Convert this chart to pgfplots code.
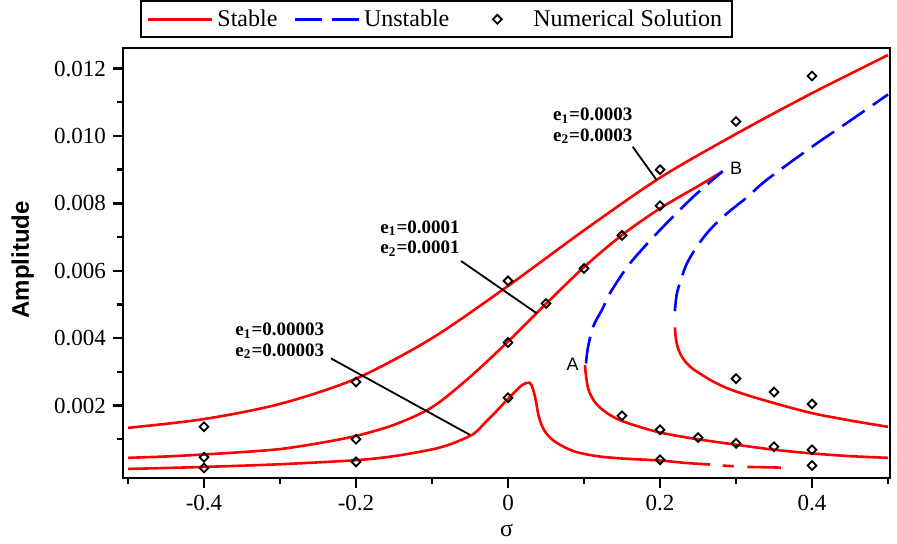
\documentclass[border=0pt]{standalone}
\usepackage{fontspec}
\setmainfont{Liberation Serif}
\setsansfont{Liberation Sans}
\usepackage{pgfplots}
\pgfplotsset{compat=1.18}

\pgfplotsset{
  stab/.style={red, line width=1.3pt, smooth, forget plot},
  unst/.style={blue, line width=1.3pt, smooth, dash pattern=on 13.5pt off 5pt, forget plot},
  numsol/.style={only marks, mark=square, mark size=1.55pt, mark options={black, rotate=45, line width=0.9pt}, forget plot},
}

\begin{document}
\begin{tikzpicture}
\begin{axis}[
  scale only axis,
  width=383.5pt, height=215pt,
  xmin=-0.5066, xmax=0.5026,
  ymin=-0.000148, ymax=0.01261,
  axis line style={line width=1.2pt},
  tick align=outside,
  xtick pos=bottom, ytick pos=left,
  xtick={-0.4,-0.2,0,0.2,0.4},
  minor xtick={-0.5,-0.3,-0.1,0.1,0.3,0.5},
  ytick={0.002,0.004,0.006,0.008,0.010,0.012},
  minor ytick={0.001,0.003,0.005,0.007,0.009,0.011},
  major tick length=5pt, minor tick length=3pt,
  tick style={black, line width=1.2pt},
  scaled y ticks=false, scaled x ticks=false,
  yticklabel style={/pgf/number format/.cd, fixed, fixed zerofill, precision=3, assume math mode=true},
  xticklabel style={/pgf/number format/.cd, fixed, precision=1, assume math mode=true},
  tick label style={font=\fontsize{11.5}{13}\selectfont},
  xlabel={σ},
  ylabel={Amplitude},
  xlabel style={font=\fontsize{12}{14}\selectfont, at={(axis description cs:0.5,-0.121)}, anchor=center},
  ylabel style={font=\sffamily\bfseries\fontsize{12}{14}\selectfont, at={(axis description cs:-0.1307,0.507)}, anchor=center},
  legend image code/.code={\draw[mark repeat=2,mark phase=2,#1] plot coordinates {(0pt,0pt) (16pt,0pt) (32pt,0pt)};},
  legend columns=3,
  legend style={at={(0.022,1.023)}, anchor=south west, draw=black, line width=1pt,
    font=\fontsize{12}{14}\selectfont, inner xsep=3pt, inner ysep=2pt,
    /tikz/every even column/.append style={column sep=6pt}},
]
\addlegendimage{red, line width=1.3pt}
\addlegendentry{Stable}
\addlegendimage{blue, line width=1.3pt, dash pattern=on 13.5pt off 5pt}
\addlegendentry{Unstable}
\addlegendimage{white, line width=0pt, mark=square, mark size=1.55pt, mark options={draw=black, solid, rotate=45, line width=0.9pt}}
\addlegendentry{Numerical Solution}

% e1=e2=0.0003, upper stable branch
\addplot[stab] coordinates {
  (-0.5,0.00134) (-0.4,0.0016) (-0.3,0.00205) (-0.2,0.0028) (-0.1,0.0040)
  (0,0.00555) (0.1,0.0072) (0.2,0.00876) (0.3,0.01006) (0.4,0.01127) (0.5,0.0124)
};
% e1=e2=0.0003, unstable and lower stable branches
\addplot[unst] coordinates {
  (0.2195,0.0048) (0.222,0.0053) (0.227,0.0057) (0.235,0.0062) (0.248,0.0067)
  (0.265,0.0072) (0.288,0.0077) (0.315,0.00819) (0.34,0.00869) (0.4,0.00968)
  (0.45,0.01045) (0.5,0.01123)
};
\addplot[stab] coordinates {
  (0.2197,0.00432) (0.2203,0.0041) (0.2215,0.0039) (0.2237,0.0037) (0.2275,0.0035)
  (0.2335,0.0033) (0.2425,0.0031) (0.256,0.0029) (0.271,0.0027) (0.29,0.0025)
  (0.316,0.0023) (0.346,0.0021) (0.378,0.0019) (0.405,0.00175) (0.44,0.0016)
  (0.465,0.0015) (0.5,0.00137)
};

% e1=e2=0.0001
\addplot[stab] coordinates {
  (-0.5,0.00045) (-0.45,0.00049) (-0.4,0.00055) (-0.35,0.00062) (-0.3,0.00071)
  (-0.25,0.00088) (-0.2,0.0011) (-0.15,0.00143) (-0.1,0.00195) (-0.05,0.00285)
  (0,0.0039) (0.05,0.00502) (0.1,0.00611) (0.15,0.00706) (0.2,0.00785)
  (0.25,0.00851) (0.2825,0.00895)
};
\addplot[unst] coordinates {
  (0.1026,0.00325) (0.105,0.0037) (0.112,0.00434) (0.125,0.0049) (0.134,0.00533)
  (0.1605,0.00622) (0.2,0.00721) (0.244,0.0082) (0.2825,0.00895)
};
\addplot[stab] coordinates {
  (0.1013,0.0032) (0.1025,0.0029) (0.1055,0.0025) (0.111,0.00222) (0.117,0.00203)
  (0.13,0.00178) (0.147,0.00157) (0.17,0.00139) (0.2,0.0012) (0.244,0.00102)
  (0.3,0.00084) (0.35,0.00069) (0.4,0.00058) (0.45,0.0005) (0.5,0.00045)
};

% e1=e2=0.00003
\addplot[stab] coordinates {
  (-0.5,0.00012) (-0.4,0.00018) (-0.3,0.00026) (-0.2,0.00038) (-0.15,0.0005)
  (-0.1,0.0007) (-0.075,0.00086) (-0.05,0.0011) (-0.04,0.00126) (-0.03,0.0015)
  (-0.02,0.00172) (-0.01,0.00196) (0,0.0022) (0.01,0.00243) (0.018,0.0026)
  (0.024,0.00267) (0.028,0.00268) (0.031,0.0026)
  (0.034,0.0024) (0.037,0.0021) (0.04,0.00172) (0.045,0.00138) (0.051,0.00116)
  (0.06,0.00096) (0.073,0.00078) (0.09,0.00062) (0.117,0.0005) (0.15,0.00043)
  (0.2,0.00037) (0.233,0.0003) (0.266,0.00025)
};
\addplot[stab] coordinates {(0.2825,0.00022) (0.297,0.0002)};
\addplot[stab] coordinates {(0.315,0.00018) (0.359,0.00016)};

% numerical solution
\addplot[numsol] coordinates {
  (-0.4,0.00137) (-0.4,0.00047) (-0.4,0.00015)
  (-0.2,0.0027) (-0.2,0.001) (-0.2,0.00033)
  (0,0.0057) (0,0.00387) (0,0.00223)
  (0.05,0.00503) (0.1,0.00607) (0.15,0.00705)
  (0.2,0.009) (0.2,0.00793) (0.2,0.00128) (0.2,0.00039)
  (0.15,0.0017) (0.25,0.00105)
  (0.3,0.01043) (0.3,0.0028) (0.3,0.00088)
  (0.35,0.0024) (0.35,0.00078)
  (0.4,0.01178) (0.4,0.00205) (0.4,0.00069) (0.4,0.00022)
};

% annotations
\draw[black, line width=0.9pt] (axis cs:0.164,0.00968) -- (axis cs:0.1956,0.00869);
\draw[black, line width=0.9pt] (axis cs:-0.0618,0.00629) -- (axis cs:0.0377,0.00474);
\draw[black, line width=0.9pt] (axis cs:-0.233,0.0034) -- (axis cs:-0.05,0.00113);
\node[font=\bfseries\fontsize{9.5}{10.4}\selectfont, align=left, anchor=west, inner sep=0pt]
  at (axis cs:0.0588,0.0103) {e\textsubscript{1}=0.0003\\e\textsubscript{2}=0.0003};
\node[font=\bfseries\fontsize{9.5}{10.4}\selectfont, align=left, anchor=west, inner sep=0pt]
  at (axis cs:-0.1684,0.00696) {e\textsubscript{1}=0.0001\\e\textsubscript{2}=0.0001};
\node[font=\bfseries\fontsize{9.5}{10.4}\selectfont, align=left, anchor=west, inner sep=0pt]
  at (axis cs:-0.3592,0.00392) {e\textsubscript{1}=0.00003\\e\textsubscript{2}=0.00003};
\node[font=\sffamily\fontsize{9}{10}\selectfont] at (axis cs:0.085,0.00323) {A};
\node[font=\sffamily\fontsize{9}{10}\selectfont] at (axis cs:0.3,0.00904) {B};

\coordinate (SW) at (rel axis cs:0,0);
\coordinate (NE) at (rel axis cs:1,1);
\end{axis}
\pgfresetboundingbox
\path[use as bounding box] ([xshift=-61.5pt,yshift=-33pt]SW) rectangle ([xshift=3.5pt,yshift=24pt]NE);
\end{tikzpicture}
\end{document}
